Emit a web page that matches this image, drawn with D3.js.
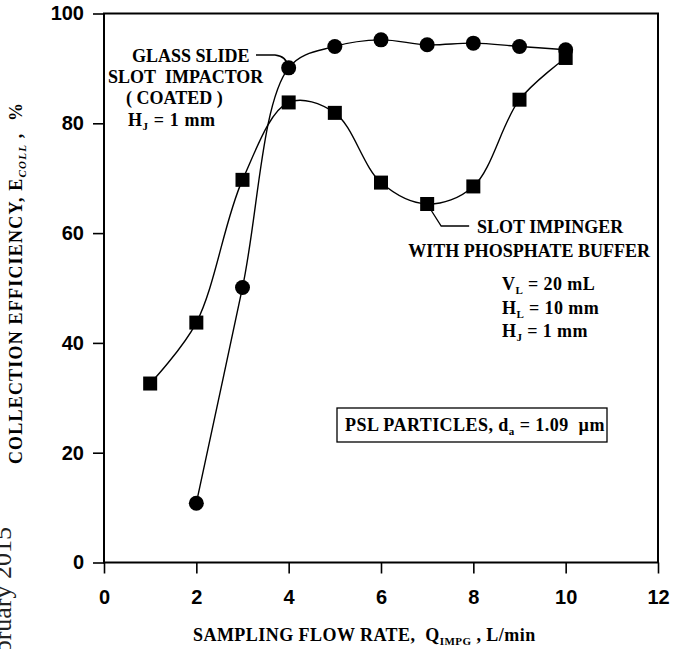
<!DOCTYPE html>
<html><head><meta charset="utf-8">
<script src="https://cdn.jsdelivr.net/npm/d3@7"></script>
<style>body{margin:0;background:#fff} svg{display:block}</style>
</head><body><svg id="c" width="673" height="649"></svg>
<script>
// ---- data ----
const flowImpactor = [2, 3, 4, 5, 6, 7, 8, 9, 10];
const effImpactor  = [10.8, 50.1, 90.1, 94.0, 95.2, 94.3, 94.6, 94.0, 93.4];
const flowImpinger = [1, 2, 3, 4, 5, 6, 7, 8, 9, 10];
const effImpinger  = [32.6, 43.7, 69.7, 83.8, 81.9, 69.2, 65.3, 68.5, 84.3, 91.9];
const xTicks = [0, 2, 4, 6, 8, 10, 12];
const yTicks = [0, 20, 40, 60, 80, 100];

const SERIF = "'Liberation Serif','Times New Roman',serif";
const SANS = "'Liberation Sans',Arial,sans-serif";
const NB = '\u00a0';

const svg = d3.select('#c');
const x = d3.scaleLinear().domain([0, 12]).range([104, 658]);
const y = d3.scaleLinear().domain([0, 100]).range([562.5, 13.5]);

// watermark (cut at page edge, as in the scan)
svg.append('text')
  .attr('transform', 'translate(11,527) rotate(-90)')
  .attr('text-anchor', 'end')
  .attr('font-family', SERIF).attr('font-size', 26).attr('fill', '#222')
  .text('February 2015');

// frame
svg.append('rect')
  .attr('x', x(0)).attr('y', y(100))
  .attr('width', x(12) - x(0)).attr('height', y(0) - y(100))
  .attr('fill', 'none').attr('stroke', '#000').attr('stroke-width', 2);

// axes
const gy = svg.append('g').attr('transform', `translate(${x(0)},0)`)
  .call(d3.axisLeft(y).tickValues(yTicks).tickSize(11).tickSizeOuter(0).tickPadding(9));
const gx = svg.append('g').attr('transform', `translate(0,${y(0)})`)
  .call(d3.axisBottom(x).tickValues(xTicks).tickSize(11).tickSizeOuter(0).tickPadding(16));
[gx, gy].forEach(g => {
  g.select('.domain').remove();
  g.selectAll('line').attr('stroke', '#000').attr('stroke-width', 1.6);
  g.selectAll('text').attr('font-family', SANS).attr('font-weight', 'bold')
    .attr('font-size', 20).attr('fill', '#000');
});

// curves
const line = d3.line().curve(d3.curveCatmullRom.alpha(0.5)).x(d => x(d[0])).y(d => y(d[1]));
const impactor = flowImpactor.map((f, i) => [f, effImpactor[i]]);
const impinger = flowImpinger.map((f, i) => [f, effImpinger[i]]);
svg.append('path').attr('d', line(impinger)).attr('fill', 'none').attr('stroke', '#000').attr('stroke-width', 1.4);
svg.append('path').attr('d', line(impactor)).attr('fill', 'none').attr('stroke', '#000').attr('stroke-width', 1.4);

svg.selectAll('rect.sq').data(impinger).join('rect').attr('class', 'sq')
  .attr('x', d => x(d[0]) - 7).attr('y', d => y(d[1]) - 7)
  .attr('width', 14).attr('height', 14).attr('fill', '#000');
svg.selectAll('circle.ci').data(impactor).join('circle').attr('class', 'ci')
  .attr('cx', d => x(d[0])).attr('cy', d => y(d[1])).attr('r', 7.5).attr('fill', '#000');

// annotations
function label(txt, px, py, anchor, ls) {
  const t = svg.append('text').attr('x', px).attr('y', py)
    .attr('font-family', SERIF).attr('font-weight', 'bold').attr('font-size', 18)
    .attr('fill', '#000').attr('text-anchor', anchor || 'start')
    .attr('letter-spacing', ls || 0);
  txt.forEach(part => {
    const s = t.append('tspan').text(part[0]);
    if (part[1] === 'sub') s.attr('font-size', 11).attr('dy', 4);
    if (part[1] === 'back') s.attr('dy', -4);
  });
  return t;
}
label([['GLASS SLIDE']], 132, 62);
label([['SLOT' + NB + NB + 'IMPACTOR']], 108, 83);
label([['(' + NB + 'COATED' + NB + ')']], 126, 104);
label([['H'], ['J', 'sub'], [' = 1 mm', 'back']], 128, 126, 'start', 0.6);

label([['SLOT IMPINGER']], 477, 233);
label([['WITH PHOSPHATE BUFFER']], 650, 257, 'end');
label([['V'], ['L', 'sub'], [' = 20 mL', 'back']], 502, 290, 'start', 0.4);
label([['H'], ['L', 'sub'], [' = 10 mm', 'back']], 502, 314, 'start', 0.4);
label([['H'], ['J', 'sub'], [' = 1 mm', 'back']], 502, 337, 'start', 0.4);

// leaders
const cx4 = x(4), cy4 = y(effImpactor[2]);
svg.append('path')
  .attr('d', `M256,55 L275,55 Q${cx4 - 2},56 ${cx4},${cy4}`)
  .attr('fill', 'none').attr('stroke', '#000').attr('stroke-width', 1.3);
const sx7 = x(7), sy7 = y(effImpinger[6]);
svg.append('path')
  .attr('d', `M${sx7},${sy7} L${sx7 + 14},${sy7 + 22} L${sx7 + 42},${sy7 + 22}`)
  .attr('fill', 'none').attr('stroke', '#000').attr('stroke-width', 1.3);

// PSL box
svg.append('rect').attr('x', 337).attr('y', 408).attr('width', 270).attr('height', 34)
  .attr('fill', '#fff').attr('stroke', '#000').attr('stroke-width', 1.3);
label([['PSL PARTICLES, d'], ['a', 'sub'], [' = 1.09' + NB + NB + '\u00b5m', 'back']], 345, 431, 'start', 0.45);

// axis titles
const xt = svg.append('text').attr('x', 193).attr('y', 641)
  .attr('font-family', SERIF).attr('font-weight', 'bold').attr('font-size', 18)
  .attr('letter-spacing', 0.45).attr('fill', '#000');
xt.append('tspan').text('SAMPLING FLOW RATE,' + NB + NB + 'Q');
xt.append('tspan').text('IMPG').attr('font-size', 11).attr('dy', 4);
xt.append('tspan').text(' , L/min').attr('dy', -4);

const yt = svg.append('text').attr('transform', 'translate(22,283) rotate(-90)')
  .attr('text-anchor', 'middle')
  .attr('font-family', SERIF).attr('font-weight', 'bold').attr('font-size', 18)
  .attr('letter-spacing', 1.2).attr('fill', '#000');
yt.append('tspan').text('COLLECTION EFFICIENCY, E');
yt.append('tspan').text('COLL').attr('font-size', 11).attr('dy', 4).attr('font-style', 'italic');
yt.append('tspan').text(' ,' + NB + NB + '%').attr('dy', -4);
</script></body></html>
